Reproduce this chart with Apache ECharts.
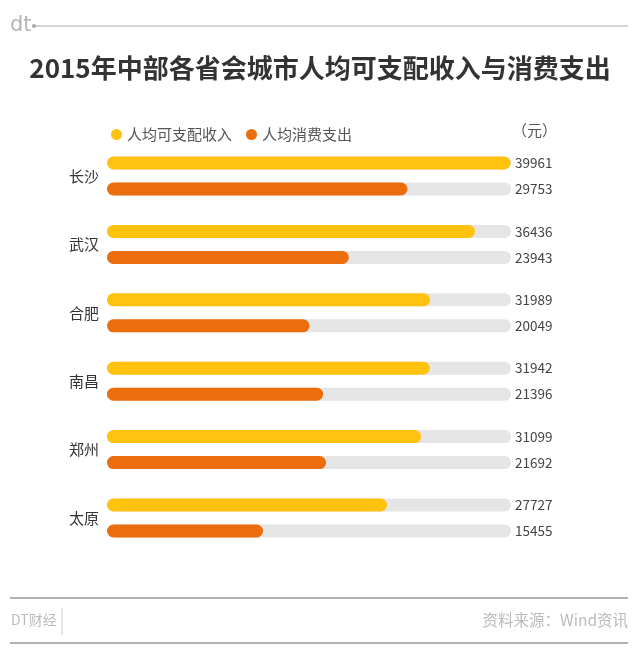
<!DOCTYPE html>
<html><head><meta charset="utf-8">
<script src="https://cdn.jsdelivr.net/npm/echarts@6/dist/echarts.min.js"></script>
<style>html,body{margin:0;padding:0;background:#fff}#c{width:640px;height:660px}</style>
</head><body><div id="c"></div>
<script>
const cities = ['长沙','武汉','合肥','南昌','郑州','太原'];
const income = [39961,36436,31989,31942,31099,27727];
const spending = [29753,23943,20049,21396,21692,15455];
const seriesNames = ['人均可支配收入','人均消费支出'];
const axisMax = 40000;
const FONT = '"Noto Sans CJK SC", "Noto Sans", sans-serif';

const chart = echarts.init(document.getElementById('c'));
const labelCfg = {
  show: true,
  position: [408, '50%'],
  verticalAlign: 'middle',
  align: 'left',
  color: '#444',
  fontSize: 13.5,
  fontFamily: FONT,
  textBorderWidth: 0
};
chart.setOption({
  animation: false,
  textStyle: { fontFamily: FONT },
  title: {
    text: '2015年中部各省会城市人均可支配收入与消费支出',
    left: 'center', top: 50,
    textStyle: { fontSize: 26, fontWeight: 'bold', color: '#333', fontFamily: FONT }
  },
  legend: {
    data: seriesNames, left: 106, top: 122, icon: 'circle',
    itemWidth: 11, itemHeight: 11, itemGap: 14,
    textStyle: { fontSize: 15, color: '#555', fontFamily: FONT }
  },
  grid: { left: 107, width: 404, top: 141.8, height: 410.4 },
  xAxis: { type: 'value', min: 0, max: axisMax, show: false },
  yAxis: {
    type: 'category', data: cities, inverse: true,
    axisLine: { show: false }, axisTick: { show: false },
    axisLabel: { fontSize: 15, color: '#333', margin: 8, fontFamily: FONT }
  },
  series: [
    { name: seriesNames[0], type: 'bar', data: income, barWidth: 13,
      itemStyle: { color: '#FFC20E', borderRadius: 6.5 },
      showBackground: true, backgroundStyle: { color: '#e5e5e5', borderRadius: 6.5 },
      label: labelCfg },
    { name: seriesNames[1], type: 'bar', data: spending, barWidth: 13, barGap: '100%',
      itemStyle: { color: '#EC6D0B', borderRadius: 6.5 },
      showBackground: true, backgroundStyle: { color: '#e5e5e5', borderRadius: 6.5 },
      label: labelCfg }
  ],
  graphic: [
    { type: 'text', left: 10, top: 15, style: { text: 'dt', fontSize: 21, fill: '#b5b5b5', fontFamily: '"DejaVu Sans", sans-serif' } },
    { type: 'line', shape: { x1: 34, y1: 26, x2: 628, y2: 26 }, style: { stroke: '#aaa', lineWidth: 1 } },
    { type: 'circle', shape: { cx: 34, cy: 26, r: 2 }, style: { fill: '#aaa' } },
    { type: 'text', left: 512, top: 123, style: { text: '（元）', fontSize: 15, fill: '#555', fontFamily: FONT } },
    { type: 'line', shape: { x1: 10, y1: 598, x2: 628, y2: 598 }, style: { stroke: '#999', lineWidth: 1.5 } },
    { type: 'line', shape: { x1: 10, y1: 643, x2: 628, y2: 643 }, style: { stroke: '#999', lineWidth: 1.5 } },
    { type: 'line', shape: { x1: 62, y1: 608, x2: 62, y2: 635 }, style: { stroke: '#ccc', lineWidth: 1 } },
    { type: 'text', left: 11, top: 613, style: { text: 'DT财经', fontSize: 14, fill: '#bbb', fontFamily: FONT } },
    { type: 'text', right: 12, top: 612, style: { text: '资料来源：Wind资讯', fontSize: 15.5, fill: '#bbb', fontFamily: FONT } }
  ]
});
</script></body></html>
